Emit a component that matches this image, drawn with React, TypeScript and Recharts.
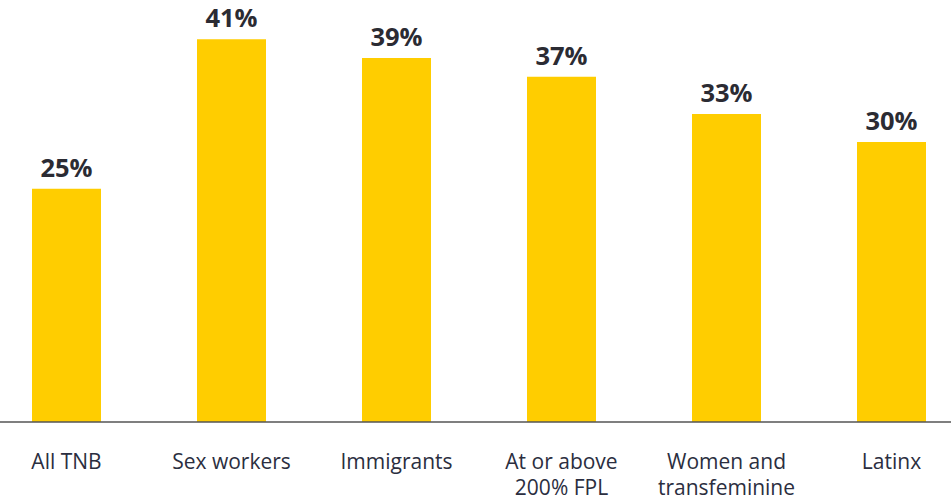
import React from "react";
import { BarChart, Bar, XAxis, YAxis, LabelList } from "recharts";

const categories = ["All TNB", "Sex workers", "Immigrants", "At or above 200% FPL", "Women and transfeminine", "Latinx"];
const values = [25, 41, 39, 37, 33, 30];
const tickLines: string[][] = [
  ["All TNB"],
  ["Sex workers"],
  ["Immigrants"],
  ["At or above", "200% FPL"],
  ["Women and", "transfeminine"],
  ["Latinx"],
];

const data = categories.map((c, i) => ({ name: c, value: values[i] }));

const FONT = "'Open Sans', sans-serif";

const CatTick = (props: any) => {
  const { x, y, index } = props;
  const lines = tickLines[index] || [];
  return (
    <text x={x} y={y + 45} textAnchor="middle" fill="#2b2e40" fontSize={21} fontFamily={FONT}>
      {lines.map((l, i) => (
        <tspan key={i} x={x} dy={i === 0 ? 0 : 26}>
          {l}
        </tspan>
      ))}
    </text>
  );
};

export default function App() {
  return (
    <div style={{ position: "absolute", left: 0, top: 0, width: 951, height: 499, overflow: "hidden", background: "#fff" }}>
      <div style={{ position: "absolute", left: -16, top: 0 }}>
        <BarChart width={990} height={499} data={data} margin={{ top: 2, right: 0, bottom: 0, left: 0 }} barSize={69}>
          <XAxis
            dataKey="name"
            height={77}
            tickLine={false}
            tickSize={0}
            tickMargin={2}
            interval={0}
            axisLine={{ stroke: "#555", strokeWidth: 1.5 }}
            tick={<CatTick />}
          />
          <YAxis hide domain={[0, 45]} />
          <Bar dataKey="value" fill="#FFCD00" isAnimationActive={false}>
            <LabelList
              dataKey="value"
              position="top"
              offset={12}
              formatter={(v: any) => `${v}%`}
              fill="#2b2b33"
              fontSize={25.5}
              fontWeight={700}
              fontFamily={FONT}
            />
          </Bar>
        </BarChart>
      </div>
    </div>
  );
}
